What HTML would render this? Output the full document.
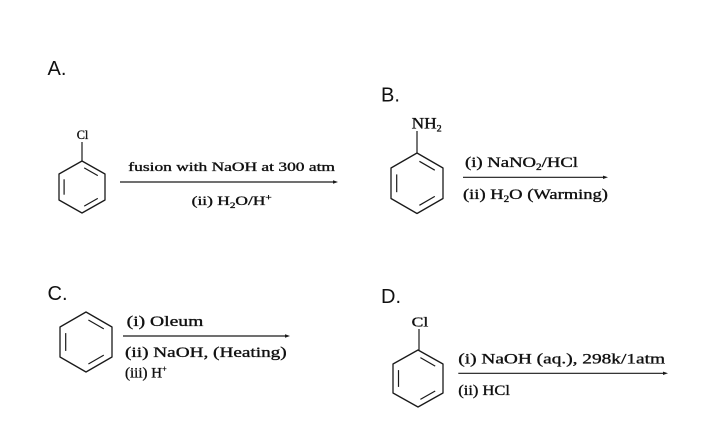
<!DOCTYPE html>
<html>
<head>
<meta charset="utf-8">
<style>
  html, body { margin: 0; padding: 0; background: #ffffff; }
  body { width: 726px; height: 423px; overflow: hidden; }
  svg { display: block; }
  .lbl { font-family: "Liberation Sans", "DejaVu Sans", sans-serif; fill: #111; }
  .chem { font-family: "Liberation Serif", "DejaVu Serif", serif; fill: #111; stroke: #111; stroke-width: 0.35; }
  .ring { fill: none; stroke: #1a1a1a; stroke-width: 1.3; stroke-linejoin: round; }
  .bond { stroke: #1a1a1a; stroke-width: 1.2; }
  .arr { stroke: #1a1a1a; stroke-width: 1.2; }
</style>
</head>
<body>
<svg width="726" height="423" viewBox="0 0 726 423" xmlns="http://www.w3.org/2000/svg">
  <!-- Labels -->
  <text class="lbl" x="47.5" y="75" font-size="20">A.</text>
  <text class="lbl" x="381" y="101.5" font-size="20">B.</text>
  <text class="lbl" x="47.5" y="300" font-size="20">C.</text>
  <text class="lbl" x="381" y="303" font-size="20">D.</text>

  <!-- ===== A ===== -->
  <text class="chem" x="76.7" y="139" font-size="13" textLength="11.6" lengthAdjust="spacingAndGlyphs">Cl</text>
  <line class="bond" x1="82" y1="142" x2="82" y2="161"/>
  <polygon class="ring" points="82,161 105,174 105,200 82,213 59,200 59,174"/>
  <line class="bond" x1="84.2" y1="167.9" x2="97.8" y2="175.6"/>
  <line class="bond" x1="64.1" y1="194.7" x2="64.1" y2="179.3"/>
  <line class="bond" x1="97.8" y1="198.4" x2="84.2" y2="206.1"/>

  <text class="chem" x="128.3" y="171" font-size="12.5" textLength="206.7" lengthAdjust="spacingAndGlyphs">fusion with NaOH at 300 atm</text>
  <line class="arr" x1="120" y1="182" x2="335" y2="182"/>
  <polygon points="333,180.3 338,182 333,183.7" fill="#1a1a1a"/>
  <text class="chem" x="191.7" y="205" font-size="12.5" textLength="80" lengthAdjust="spacingAndGlyphs">(ii) H<tspan font-size="8" dy="3">2</tspan><tspan dy="-3">O/H</tspan><tspan font-size="8" dy="-5">+</tspan></text>

  <!-- ===== B ===== -->
  <text class="chem" x="411.7" y="128.3" font-size="15.5" textLength="30" lengthAdjust="spacingAndGlyphs">NH<tspan font-size="9" dy="3">2</tspan></text>
  <line class="bond" x1="417" y1="131" x2="417" y2="153"/>
  <polygon class="ring" points="417,153 443,168 443,198.5 417,213.5 391,198.5 391,168"/>
  <line class="bond" x1="419.4" y1="161.3" x2="434.8" y2="170.2"/>
  <line class="bond" x1="396.7" y1="192.2" x2="396.7" y2="174.4"/>
  <line class="bond" x1="434.8" y1="196.4" x2="419.4" y2="205.3"/>

  <text class="chem" x="465" y="167" font-size="15" textLength="113" lengthAdjust="spacingAndGlyphs">(i) NaNO<tspan font-size="9" dy="3">2</tspan><tspan dy="-3">/HCl</tspan></text>
  <line class="arr" x1="463" y1="177.3" x2="605" y2="177.3"/>
  <polygon points="603,175.6 608,177.3 603,179" fill="#1a1a1a"/>
  <text class="chem" x="463" y="199" font-size="15" textLength="145" lengthAdjust="spacingAndGlyphs">(ii) H<tspan font-size="9" dy="3">2</tspan><tspan dy="-3">O (Warming)</tspan></text>

  <!-- ===== C ===== -->
  <polygon class="ring" points="86,312 112,327 112,357 86,372 60,357 60,327"/>
  <line class="bond" x1="88.4" y1="320" x2="103.8" y2="328.9"/>
  <line class="bond" x1="65.7" y1="350.9" x2="65.7" y2="333.1"/>
  <line class="bond" x1="103.8" y1="355.1" x2="88.4" y2="364"/>

  <text class="chem" x="126.7" y="326" font-size="15" textLength="76.6" lengthAdjust="spacingAndGlyphs">(i) Oleum</text>
  <line class="arr" x1="123" y1="336" x2="287" y2="336"/>
  <polygon points="285,334.3 290,336 285,337.7" fill="#1a1a1a"/>
  <text class="chem" x="125" y="357" font-size="15" textLength="161.7" lengthAdjust="spacingAndGlyphs">(ii) NaOH, (Heating)</text>
  <text class="chem" x="125" y="377.5" font-size="15">(iii) H<tspan font-size="8" dy="-6">+</tspan></text>

  <!-- ===== D ===== -->
  <text class="chem" x="411.7" y="326.7" font-size="14" textLength="16.6" lengthAdjust="spacingAndGlyphs">Cl</text>
  <line class="bond" x1="419" y1="329" x2="419" y2="350"/>
  <polygon class="ring" points="418,350 443,364 443,393 418,407 393,393 393,364"/>
  <line class="bond" x1="420.4" y1="357.6" x2="435.2" y2="366.1"/>
  <line class="bond" x1="398.5" y1="386.9" x2="398.5" y2="370.1"/>
  <line class="bond" x1="435.2" y1="391" x2="420.4" y2="399.4"/>

  <text class="chem" x="458.3" y="363.5" font-size="15" textLength="206.7" lengthAdjust="spacingAndGlyphs">(i) NaOH (aq.), 298k/1atm</text>
  <line class="arr" x1="458.3" y1="373.3" x2="665" y2="373.3"/>
  <polygon points="663,371.6 668,373.3 663,375" fill="#1a1a1a"/>
  <text class="chem" x="458.3" y="395" font-size="15" textLength="51.7" lengthAdjust="spacingAndGlyphs">(ii) HCl</text>
</svg>
</body>
</html>
